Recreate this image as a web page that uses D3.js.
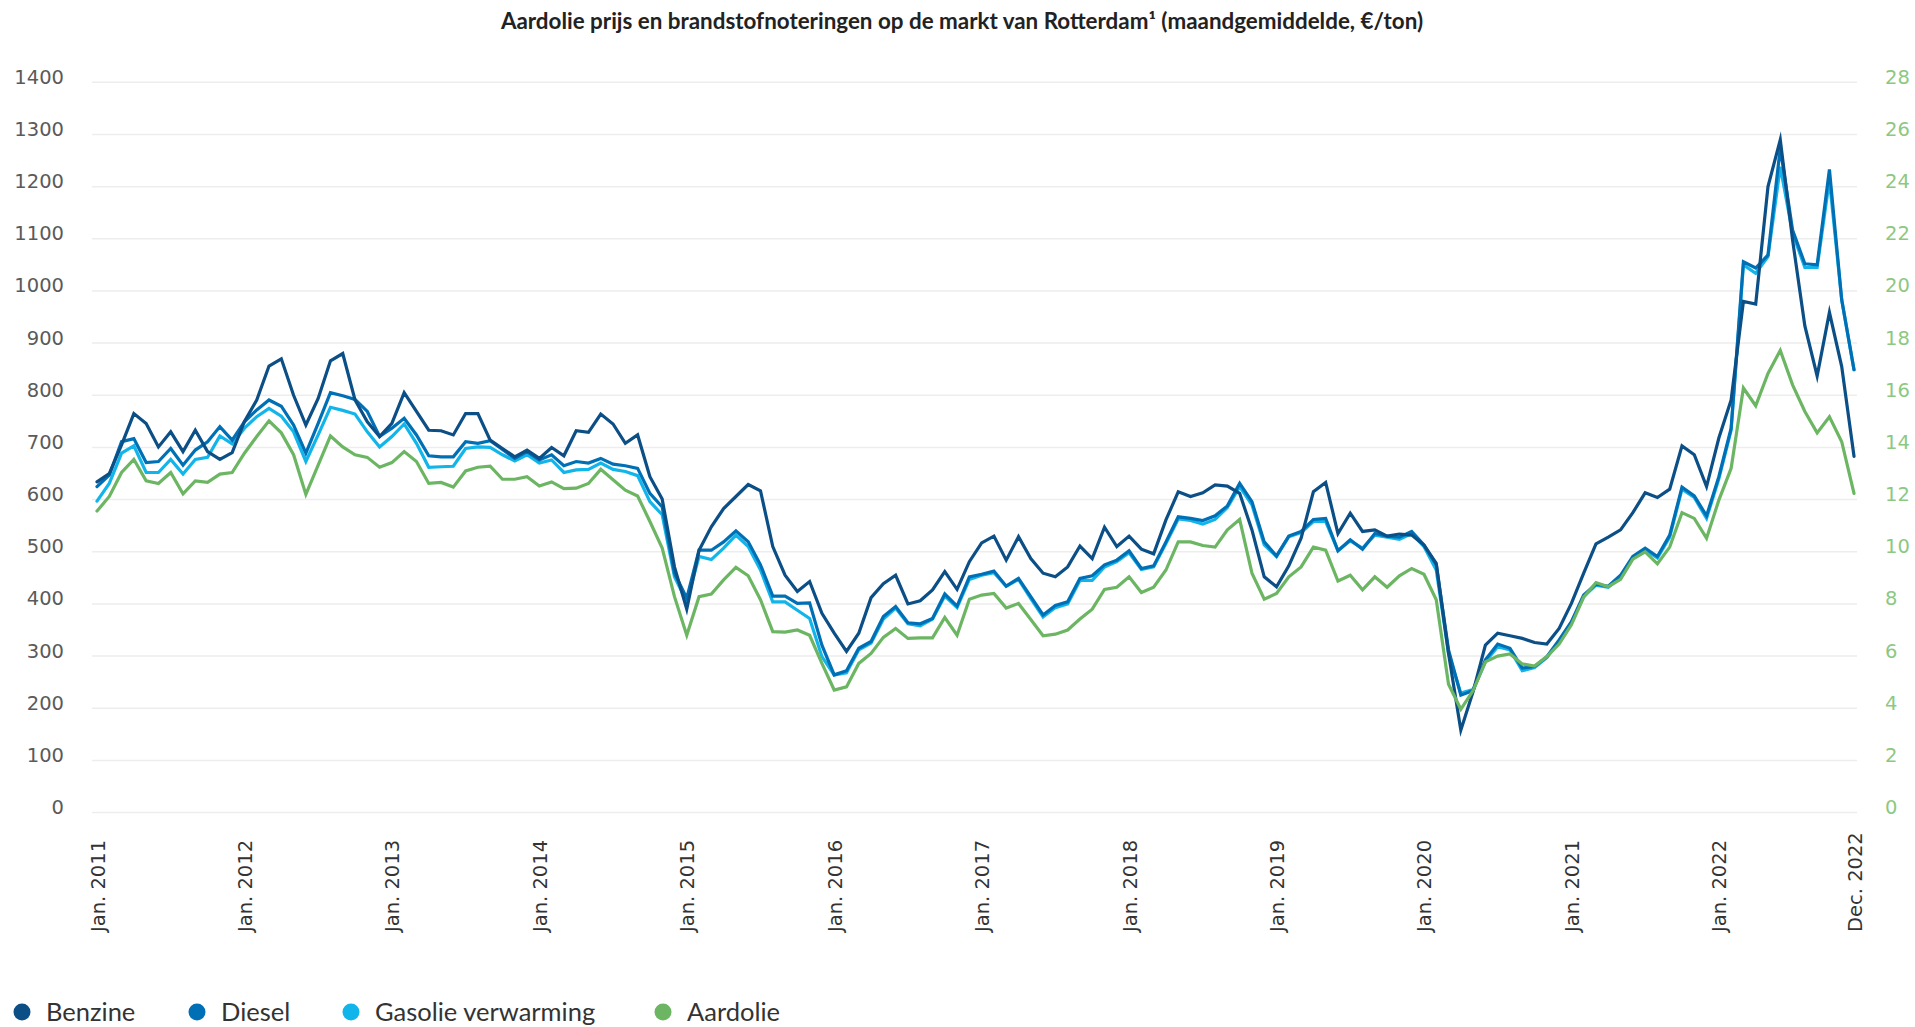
<!DOCTYPE html>
<html>
<head>
<meta charset="utf-8">
<script src="https://cdn.jsdelivr.net/npm/d3@7/dist/d3.min.js"></script>
<style>
    body { margin: 0; background: #fff; }
    svg { display: block; }
</style>
</head>
<body>
<div id="chart"></div>
<script>
// monthly averages, Jan 2011 - Dec 2022 (one row per year)
const benzine = [
    634, 650, 705, 765, 746, 701, 730, 692, 733, 692, 677, 690,
    750, 791, 856, 870, 800, 743, 794, 866, 880, 791, 749, 721,
    746, 805, 769, 733, 732, 724, 765, 765, 714, 698, 682, 695,
    679, 700, 684, 732, 729, 764, 745, 708, 724, 644, 601, 471,
    390, 503, 548, 583, 606, 629, 617, 510, 455, 424, 443, 382,
    344, 309, 344, 412, 439, 455, 400, 406, 427, 462, 428, 481,
    517, 530, 484, 529, 487, 459, 452, 471, 511, 487, 547, 510,
    530, 505, 496, 561, 615, 606, 613, 628, 626, 612, 542, 452,
    433, 473, 526, 615, 633, 535, 574, 539, 542, 530, 534, 532,
    513, 478, 305, 158, 232, 321, 344, 339, 334, 326, 323, 353,
    401, 459, 515, 528, 542, 575, 613, 604, 620, 703, 686, 625,
    718, 791, 980, 975, 1200, 1290, 1098, 933, 837, 959, 855, 683
];
const diesel = [
    625, 647, 711, 717, 671, 673, 698, 666, 695, 711, 740, 714,
    749, 772, 791, 779, 743, 689, 746, 805, 799, 792, 769, 721,
    737, 756, 724, 684, 682, 682, 711, 708, 713, 696, 679, 692,
    676, 686, 665, 673, 670, 679, 668, 665, 660, 612, 586, 459,
    411, 503, 503, 519, 540, 519, 475, 415, 415, 401, 402, 321,
    264, 272, 315, 328, 376, 395, 364, 362, 372, 419, 396, 452,
    457, 463, 434, 449, 414, 379, 397, 404, 449, 454, 475, 484,
    502, 468, 473, 519, 567, 564, 560, 569, 588, 631, 596, 519,
    492, 530, 539, 562, 564, 502, 523, 505, 535, 530, 528, 539,
    513, 475, 312, 225, 234, 293, 323, 315, 277, 280, 299, 331,
    366, 417, 438, 434, 455, 491, 507, 491, 532, 624, 607, 569,
    644, 737, 1056, 1044, 1069, 1274, 1117, 1052, 1050, 1233, 983, 849
];
const gasolie = [
    597, 631, 689, 703, 652, 652, 677, 649, 677, 681, 722, 707,
    737, 759, 775, 760, 730, 673, 724, 777, 771, 764, 730, 701,
    721, 745, 708, 662, 663, 664, 698, 701, 700, 686, 674, 686,
    670, 676, 652, 657, 658, 670, 658, 654, 646, 596, 571, 452,
    404, 491, 485, 507, 532, 510, 465, 404, 404, 388, 372, 299,
    264, 268, 312, 325, 371, 392, 362, 358, 371, 415, 393, 447,
    455, 460, 434, 447, 410, 375, 393, 400, 445, 445, 471, 481,
    498, 466, 471, 516, 563, 560, 553, 562, 585, 625, 590, 513,
    491, 529, 537, 558, 558, 502, 521, 507, 532, 528, 524, 535,
    510, 465, 305, 229, 236, 289, 318, 312, 272, 278, 297, 328,
    364, 414, 436, 432, 452, 488, 504, 488, 528, 620, 604, 564,
    640, 733, 1050, 1034, 1066, 1238, 1111, 1045, 1045, 1213, 983, 849
];
// aardolie is read on the right hand axis
const aardolie = [
    11.56, 12.12, 13.04, 13.54, 12.72, 12.62, 13.04, 12.22, 12.72, 12.66, 12.98, 13.04,
    13.78, 14.42, 15.02, 14.56, 13.72, 12.20, 13.32, 14.44, 14.02, 13.72, 13.62, 13.24,
    13.42, 13.84, 13.46, 12.62, 12.66, 12.48, 13.10, 13.24, 13.28, 12.78, 12.78, 12.88,
    12.52, 12.68, 12.42, 12.44, 12.62, 13.16, 12.76, 12.36, 12.14, 11.16, 10.14, 8.28,
    6.80, 8.28, 8.38, 8.92, 9.40, 9.08, 8.16, 6.94, 6.92, 7.00, 6.80, 5.72,
    4.70, 4.82, 5.72, 6.10, 6.72, 7.06, 6.68, 6.70, 6.70, 7.48, 6.80, 8.18,
    8.34, 8.40, 7.84, 8.02, 7.40, 6.78, 6.84, 7.00, 7.42, 7.80, 8.56, 8.64,
    9.04, 8.44, 8.64, 9.30, 10.38, 10.38, 10.24, 10.18, 10.84, 11.24, 9.18, 8.18,
    8.40, 9.04, 9.42, 10.18, 10.06, 8.88, 9.10, 8.54, 9.04, 8.64, 9.08, 9.36,
    9.14, 8.16, 4.92, 3.96, 4.68, 5.78, 6.00, 6.08, 5.70, 5.62, 5.98, 6.46,
    7.20, 8.26, 8.82, 8.66, 8.94, 9.72, 10.00, 9.54, 10.18, 11.50, 11.28, 10.52,
    11.98, 13.20, 16.28, 15.60, 16.84, 17.72, 16.40, 15.38, 14.56, 15.18, 14.22, 12.24
];

const seriesNames = ["Benzine", "Diesel", "Gasolie verwarming", "Aardolie"];
const leftTicks = d3.range(0, 1401, 100);
const rightTicks = d3.range(0, 29, 2);
const xTickLabels = ["Jan. 2011", "Jan. 2012", "Jan. 2013", "Jan. 2014", "Jan. 2015", "Jan. 2016",
    "Jan. 2017", "Jan. 2018", "Jan. 2019", "Jan. 2020", "Jan. 2021", "Jan. 2022", "Dec. 2022"];
const titleText = "Aardolie prijs en brandstofnoteringen op de markt van Rotterdam\u00b9 (maandgemiddelde, \u20ac/ton)";

const colors = {
    "Benzine": "#0b4f86",
    "Diesel": "#0070b6",
    "Gasolie verwarming": "#12b5ea",
    "Aardolie": "#6cb663"
};

const width = 1915, height = 1027;
const plot = {left: 97, right: 1854, top: 82.3, bottom: 812.6};
const axisFont = "'DejaVu Sans', Verdana, sans-serif";
const textFont = "Lato, 'Noto Sans', sans-serif";

const months = d3.timeMonth.range(new Date(2011, 0, 1), new Date(2023, 0, 1));
const fmtLabel = d3.timeFormat("%b %Y");
// Jan of every year plus the last month
const tickMonths = months.filter((m, i) => m.getMonth() === 0 || i === months.length - 1);
const labelOf = new Map(tickMonths.map((m, i) => [fmtLabel(m), xTickLabels[i]]));

const xScale = d3.scalePoint().domain(months.map(fmtLabel)).range([plot.left, plot.right]);
const yLeft = d3.scaleLinear().domain([0, 1400]).range([plot.bottom, plot.top]);
const yRight = d3.scaleLinear().domain([0, 28]).range([plot.bottom, plot.top]);

const svg = d3.select("#chart").append("svg")
    .attr("width", width)
    .attr("height", height);

// title
svg.append("text")
    .attr("x", 962)
    .attr("y", 29)
    .attr("text-anchor", "middle")
    .style("font-family", textFont)
    .style("font-weight", "bold")
    .style("font-size", "22.4px")
    .style("fill", "#222")
    .text(titleText);

// horizontal grid
svg.append("g").attr("class", "gridG")
    .selectAll("line")
    .data(leftTicks)
    .join("line")
    .attr("x1", 92)
    .attr("x2", 1857)
    .attr("y1", d => yLeft(d))
    .attr("y2", d => yLeft(d))
    .attr("stroke", "#ededed")
    .attr("stroke-width", 1.5);

// left axis
const leftAxisG = svg.append("g")
    .attr("class", "yAxisG")
    .attr("transform", "translate(64,0)")
    .call(d3.axisLeft(yLeft).tickValues(leftTicks).tickFormat(d3.format("d")).tickSize(0).tickPadding(0));
leftAxisG.select(".domain").remove();
leftAxisG.selectAll("text")
    .attr("dy", "0.05em")
    .style("font-family", axisFont)
    .style("font-size", "19.5px")
    .style("fill", "#5a5a5a");

// right axis (aardolie)
const rightAxisG = svg.append("g")
    .attr("class", "yAxisRightG")
    .attr("transform", "translate(1885,0)")
    .call(d3.axisRight(yRight).tickValues(rightTicks).tickFormat(d3.format("d")).tickSize(0).tickPadding(0));
rightAxisG.select(".domain").remove();
rightAxisG.selectAll("text")
    .attr("dy", "0.05em")
    .style("font-family", axisFont)
    .style("font-size", "19.5px")
    .style("fill", "#8dc882");

// bottom axis, rotated labels
const xAxisG = svg.append("g")
    .attr("class", "xAxisG")
    .attr("transform", "translate(0,932)")
    .call(d3.axisBottom(xScale)
        .tickValues(tickMonths.map(fmtLabel))
        .tickFormat(d => labelOf.get(d))
        .tickSize(0));
xAxisG.select(".domain").remove();
xAxisG.selectAll("text")
    .attr("text-anchor", "start")
    .attr("transform", "rotate(-90)")
    .attr("x", 0)
    .attr("y", 0)
    .attr("dx", 0)
    .attr("dy", "0.36em")
    .style("font-family", axisFont)
    .style("font-size", "19.5px")
    .style("fill", "#333");

// lines
const seriesData = [
    {name: "Gasolie verwarming", values: gasolie, scale: yLeft},
    {name: "Diesel", values: diesel, scale: yLeft},
    {name: "Benzine", values: benzine, scale: yLeft},
    {name: "Aardolie", values: aardolie, scale: yRight}
];

const linesG = svg.append("g").attr("class", "linesG");
linesG.selectAll("path")
    .data(seriesData)
    .join("path")
    .attr("fill", "none")
    .attr("stroke", d => colors[d.name])
    .attr("stroke-width", 3.2)
    .attr("stroke-linejoin", "miter")
    .attr("stroke-miterlimit", 6)
    .attr("stroke-linecap", "round")
    .attr("d", d => d3.line()
        .x((v, i) => xScale(fmtLabel(months[i])))
        .y(v => d.scale(v))(d.values));

// legend
const legendX = [22, 197, 351, 663];
const legendG = svg.append("g")
    .attr("class", "legendG")
    .attr("transform", "translate(0,1012)");
const itemG = legendG.selectAll("g")
    .data(seriesNames)
    .join("g")
    .attr("transform", (d, i) => "translate(" + legendX[i] + ",0)");
itemG.append("circle")
    .attr("r", 8.5)
    .attr("fill", d => colors[d]);
itemG.append("text")
    .attr("x", 24)
    .attr("dy", "0.35em")
    .style("font-family", textFont)
    .style("font-size", "25.5px")
    .style("fill", "#333")
    .text(d => d);
</script>
</body>
</html>
